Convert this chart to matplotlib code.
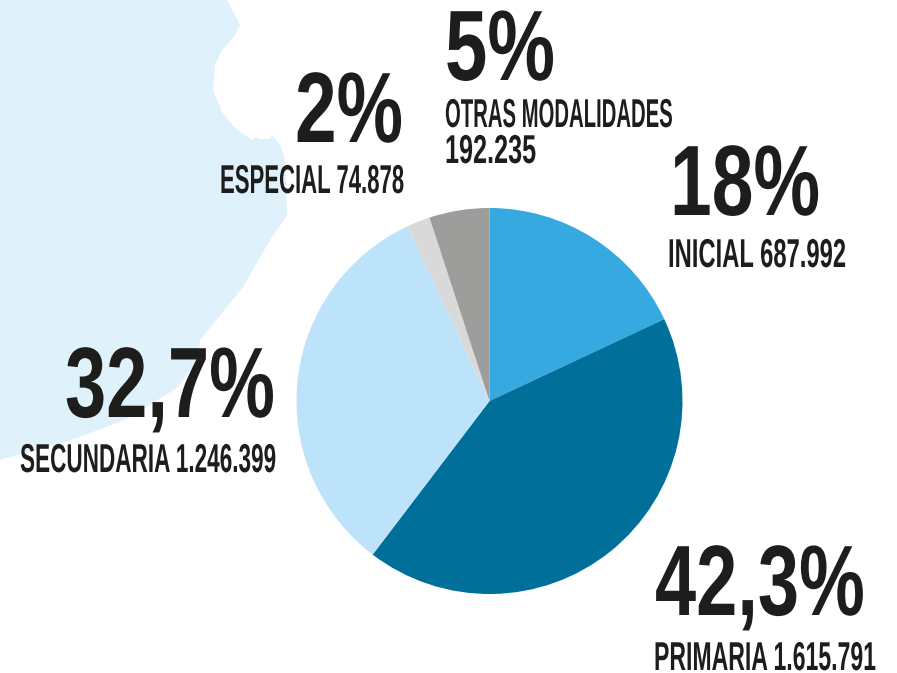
import matplotlib
matplotlib.use("Agg")
import matplotlib.pyplot as plt
from matplotlib.patches import Polygon
from matplotlib.patheffects import AbstractPathEffect
from matplotlib.text import Text
from matplotlib.transforms import Affine2D, Bbox

W, H = 897, 673

# alumnos por nivel
niveles = ["INICIAL", "PRIMARIA", "SECUNDARIA", "ESPECIAL", "OTRAS MODALIDADES"]
valores = [687992, 1615791, 1246399, 74878, 192235]
colores = ["#36A9E1", "#00709A", "#BDE3FA", "#D9D9D9", "#9D9D9C"]

TEXTO = "#1D1D1B"
FONDO = "#DFF1FA"

# silueta de fondo, en pixeles de la imagen
mapa = [(0, 0), (227, 0), (240, 25), (234, 37), (222, 50), (215, 65), (213, 90),
        (222, 112), (235, 128), (252, 140), (257, 137), (258, 139), (270, 139),
        (272, 135), (281, 146), (285, 160), (287, 215), (270, 240), (243, 287),
        (200, 340), (198, 360), (177, 388), (127, 419), (66, 442), (0, 460)]

# texto, x izquierda, linea base, ancho, tamano (todo en pixeles salvo el tamano)
rotulos = [
    ("5%", 445, 80, 110, 72),
    ("OTRAS MODALIDADES", 445, 127, 228, 29),
    ("192.235", 445, 163, 91, 29),
    ("2%", 295, 142, 108, 72),
    ("ESPECIAL 74.878", 220, 193, 184, 29),
    ("18%", 670, 215, 150, 72),
    ("INICIAL 687.992", 668, 267, 178, 29),
    ("32,7%", 65, 417, 210, 72),
    ("SECUNDARIA 1.246.399", 20, 472, 256, 29),
    ("42,3%", 655, 615, 210, 72),
    ("PRIMARIA 1.615.791", 654, 670, 222, 29),
]


class Estrecha(AbstractPathEffect):
    # comprime el texto en horizontal, la fuente condensada no esta instalada
    def __init__(self, sx):
        super().__init__()
        self.sx = sx

    def draw_path(self, renderer, gc, tpath, affine, rgbFace=None):
        renderer.draw_path(gc, tpath, Affine2D().scale(self.sx, 1) + affine, rgbFace)


class TextoEstrecho(Text):
    sx = 1.0

    def get_window_extent(self, renderer=None, dpi=None):
        bb = super().get_window_extent(renderer, dpi)
        return Bbox.from_bounds(bb.x0, bb.y0, bb.width * self.sx, bb.height)


fig = plt.figure(figsize=(W / 100, H / 100), dpi=100)
ax = fig.add_axes([0, 0, 1, 1])

ax.add_patch(Polygon([(x, H - y) for x, y in mapa], closed=True,
                     facecolor=FONDO, edgecolor="none", zorder=0))

ax.pie(valores, colors=colores, startangle=90, counterclock=False,
       center=(489.5, H - 401), radius=193, frame=True,
       wedgeprops={"linewidth": 0, "zorder": 2})

ax.set_xlim(0, W)
ax.set_ylim(0, H)
ax.set_aspect("equal")
ax.axis("off")

fig.canvas.draw()
rend = fig.canvas.get_renderer()
for txt, x, y, ancho, tam in rotulos:
    t = TextoEstrecho(x, H - y, txt, fontsize=tam, color=TEXTO,
                      family=["Liberation Sans Narrow", "Liberation Sans"],
                      weight="bold", ha="left", va="baseline", zorder=5)
    ax.add_artist(t)
    bruto = t.get_window_extent(rend).width
    t.sx = ancho / bruto
    t.set_path_effects([Estrecha(t.sx)])

fig.savefig("out.png", dpi=100)
